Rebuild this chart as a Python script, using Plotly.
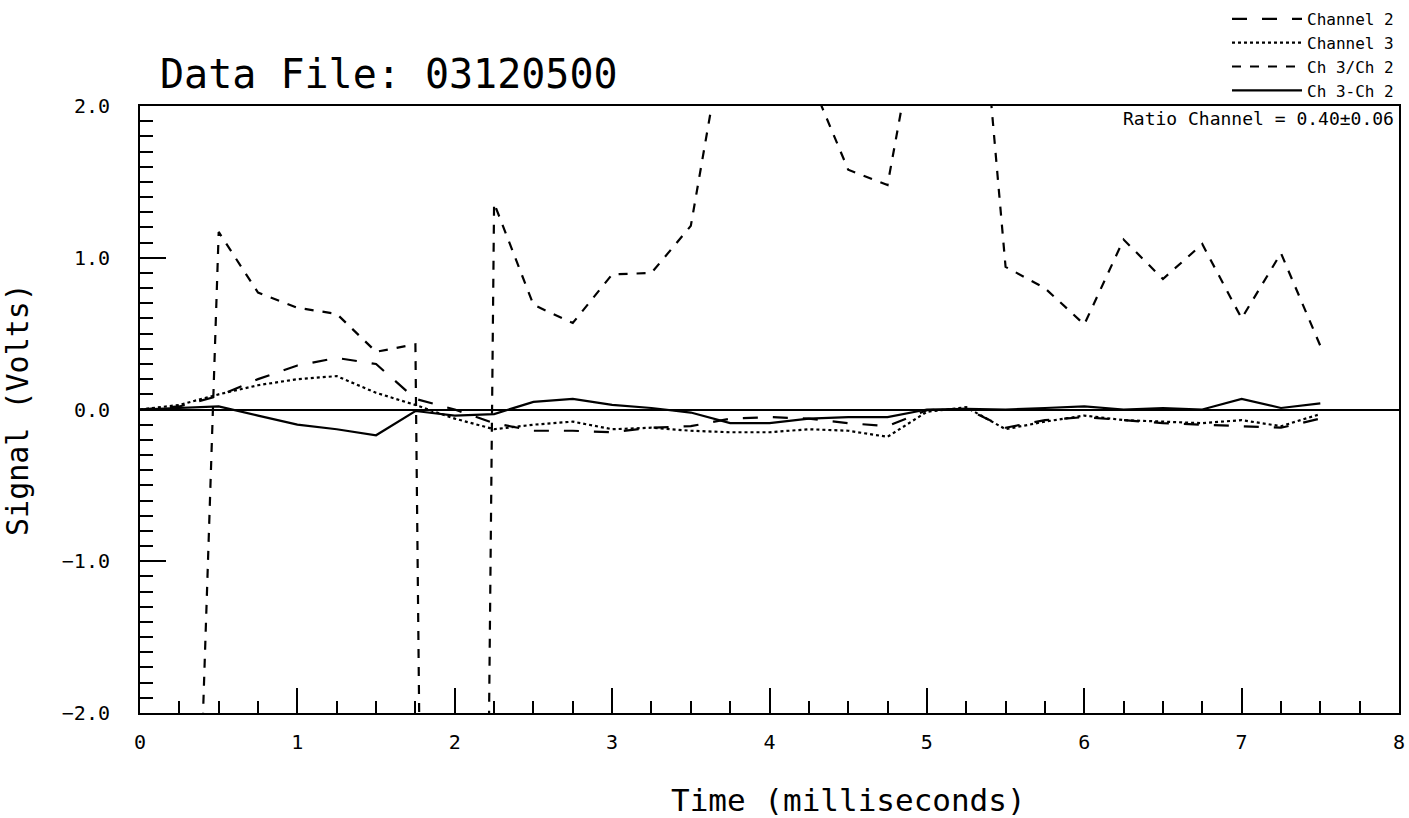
import plotly.graph_objects as go

# ---- data ----
time_ms = [0.0, 0.25, 0.5, 0.75, 1.0, 1.25, 1.5, 1.75, 2.0, 2.25, 2.5, 2.75,
           3.0, 3.25, 3.5, 3.75, 4.0, 4.25, 4.5, 4.75, 5.0, 5.25, 5.5, 5.75,
           6.0, 6.25, 6.5, 6.75, 7.0, 7.25, 7.5]

channel2 = [0.00, 0.02, 0.09, 0.20, 0.29, 0.34, 0.30, 0.07, 0.00, -0.09, -0.14, -0.14,
            -0.15, -0.12, -0.11, -0.06, -0.05, -0.06, -0.09, -0.11, -0.005, 0.005, -0.12, -0.07,
            -0.05, -0.07, -0.09, -0.10, -0.11, -0.12, -0.06]

channel3 = [0.00, 0.03, 0.10, 0.16, 0.20, 0.22, 0.11, 0.03, -0.06, -0.13, -0.10, -0.08,
            -0.13, -0.12, -0.14, -0.15, -0.15, -0.13, -0.14, -0.18, -0.015, 0.015, -0.13, -0.08,
            -0.04, -0.07, -0.08, -0.09, -0.07, -0.11, -0.03]

ratio = [None, -6.8, 1.17, 0.77, 0.67, 0.63, 0.38, 0.43, -25.0, 1.36, 0.69, 0.57,
         0.89, 0.90, 1.21, 2.7, 3.0, 2.2, 1.58, 1.48, 2.9, 3.9, 0.94, 0.80,
         0.56, 1.12, 0.86, 1.09, 0.60, 1.03, 0.42]

difference = [0.00, 0.01, 0.02, -0.04, -0.10, -0.13, -0.17, -0.01, -0.04, -0.03, 0.05, 0.07,
              0.03, 0.01, -0.02, -0.09, -0.09, -0.06, -0.05, -0.05, 0.00, 0.005, 0.00, 0.01,
              0.02, 0.00, 0.01, 0.00, 0.07, 0.01, 0.04]

series_names = ["Channel 2", "Channel 3", "Ch 3/Ch 2", "Ch 3-Ch 2"]
series_dash = ["longdash", "dot", "dash", "solid"]

title_text = "Data File: 03120500"
ratio_note = "Ratio Channel = 0.40\u00b10.06"
x_title = "Time (milliseconds)"
y_title = "Signal (Volts)"

FONT = "DejaVu Sans Mono"
W, H = 1409, 818

fig = go.Figure()
for name, vals, dash in zip(series_names, [channel2, channel3, ratio, difference], series_dash):
    fig.add_trace(go.Scatter(
        x=time_ms, y=vals, name=name, mode="lines",
        line=dict(color="black", width=2.2, dash=dash),
        connectgaps=False,
    ))

fig.update_layout(
    width=W, height=H,
    paper_bgcolor="white", plot_bgcolor="white",
    margin=dict(l=140, r=10, t=106, b=105, autoexpand=False),
    font=dict(family=FONT, color="black"),
    title=dict(text=title_text, x=160 / W, xref="container", xanchor="left",
               y=1 - 74 / H, yref="container", yanchor="middle",
               font=dict(family=FONT, size=40, color="black")),
    showlegend=True,
    legend=dict(x=1.0, xref="paper", xanchor="right", y=1.0 + 104 / 607, yref="paper",
                yanchor="top", bgcolor="rgba(0,0,0,0)", font=dict(size=16, family=FONT),
                tracegroupgap=0, itemwidth=70, borderwidth=0),
    annotations=[
        dict(text=ratio_note, xref="paper", yref="paper", x=0.998, y=1.0,
             xanchor="right", yanchor="top", showarrow=False,
             font=dict(family=FONT, size=18, color="black")),
        dict(text=x_title, xref="paper", yref="paper", x=(848 - 140) / 1259, y=-0.143,
             xanchor="center", yanchor="middle", showarrow=False,
             font=dict(family=FONT, size=31, color="black")),
    ],
)

fig.update_xaxes(
    range=[0, 8], dtick=1, tick0=0, automargin=False,
    ticks="inside", ticklen=25, tickwidth=2, tickcolor="black",
    minor=dict(dtick=0.25, ticks="inside", ticklen=12, tickwidth=2, tickcolor="black"),
    showline=True, linecolor="black", linewidth=2, mirror=True,
    showgrid=False, zeroline=False,
    tickfont=dict(size=20, family=FONT), ticklabelstandoff=10,
)
fig.update_yaxes(
    range=[-2, 2], dtick=1, tick0=0, tickformat=".1f", automargin=False,
    ticks="inside", ticklen=26, tickwidth=2, tickcolor="black",
    minor=dict(dtick=0.1, ticks="inside", ticklen=13, tickwidth=2, tickcolor="black"),
    showline=True, linecolor="black", linewidth=2, mirror=True,
    showgrid=False, zeroline=True, zerolinecolor="black", zerolinewidth=2,
    tickfont=dict(size=20, family=FONT), ticklabelstandoff=24,
    title=dict(text=y_title, font=dict(size=30, family=FONT), standoff=30),
)

# remove the default 8px page margin so the figure fills the window exactly
fig.write_html("out.html", config={"displayModeBar": False},
               post_script="document.body.style.margin='0';document.body.style.overflow='hidden';")
